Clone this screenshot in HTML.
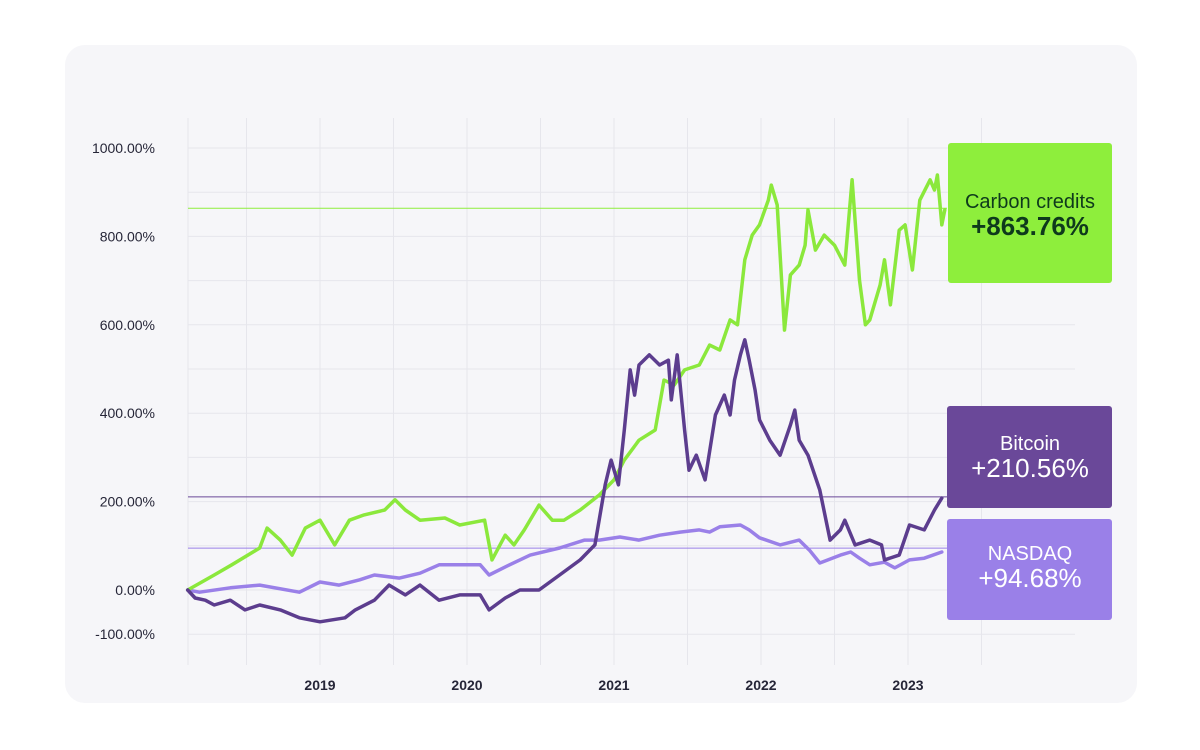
<!DOCTYPE html>
<html><head><meta charset="utf-8"><style>
html,body{margin:0;padding:0;background:#fff;width:1200px;height:750px;overflow:hidden;font-family:"Liberation Sans",sans-serif}
</style></head><body>
<svg id="chart" width="1200" height="750" xmlns="http://www.w3.org/2000/svg">
<rect x="65" y="45" width="1072" height="658" rx="20" fill="#f6f6f9"/>
<g id="grid"></g>
<g id="yaxis"></g>
<g id="xaxis"></g>
<g id="refs"></g>
<g id="lines"></g>
<g>
<rect x="948" y="143" width="164" height="140" rx="3" fill="#8eee3c"/>
<text x="1030" y="208" text-anchor="middle" font-size="20" fill="#0e3a1c">Carbon credits</text>
<text x="1030" y="235" text-anchor="middle" font-size="26" font-weight="bold" fill="#0e3a1c">+863.76%</text>
</g>
<g>
<rect x="947" y="406" width="165" height="102" rx="3" fill="#6a4899"/>
<text x="1030" y="450" text-anchor="middle" font-size="20" fill="#fff">Bitcoin</text>
<text x="1030" y="477" text-anchor="middle" font-size="26" fill="#fff">+210.56%</text>
</g>
<g>
<rect x="947" y="519" width="165" height="101" rx="3" fill="#9a80e8"/>
<text x="1030" y="560" text-anchor="middle" font-size="20" fill="#fff">NASDAQ</text>
<text x="1030" y="587" text-anchor="middle" font-size="26" fill="#fff">+94.68%</text>
</g>
</svg>
<script>
const yTicks=[1000,800,600,400,200,0,-100];
const yTickLabels=["1000.00%","800.00%","600.00%","400.00%","200.00%","0.00%","-100.00%"];
const xTicks=[2019,2020,2021,2022,2023];
const xTickLabels=["2019","2020","2021","2022","2023"];
const finalValues=[863.76,210.56,94.68];
const carbonDates=[2018.10,2018.28,2018.40,2018.59,2018.64,2018.73,2018.81,2018.90,2019.00,2019.10,2019.20,2019.30,2019.44,2019.51,2019.58,2019.68,2019.85,2019.95,2020.12,2020.17,2020.26,2020.32,2020.39,2020.49,2020.58,2020.66,2020.77,2020.90,2021.00,2021.07,2021.17,2021.28,2021.34,2021.41,2021.48,2021.58,2021.65,2021.72,2021.79,2021.84,2021.89,2021.94,2021.99,2022.05,2022.07,2022.11,2022.16,2022.20,2022.26,2022.30,2022.32,2022.37,2022.43,2022.50,2022.57,2022.62,2022.67,2022.71,2022.74,2022.81,2022.84,2022.88,2022.94,2022.98,2023.03,2023.08,2023.15,2023.18,2023.20,2023.23,2023.25];
const carbonValues=[0,34,57,95,140,113,79,140,158,102,158,170,181,204,181,158,163,147,158,68,124,102,136,192,158,158,181,215,249,294,339,362,475,464,498,509,554,543,611,600,747,803,826,882,916,871,588,713,735,780,860,769,803,780,735,928,701,600,611,690,747,645,814,826,724,882,928,905,939,826,860];
const btcDates=[2018.10,2018.15,2018.22,2018.28,2018.39,2018.49,2018.59,2018.73,2018.86,2019.00,2019.17,2019.24,2019.37,2019.47,2019.58,2019.68,2019.81,2019.95,2020.09,2020.15,2020.26,2020.36,2020.49,2020.63,2020.77,2020.87,2020.94,2020.98,2021.03,2021.07,2021.11,2021.14,2021.17,2021.24,2021.31,2021.37,2021.39,2021.43,2021.48,2021.51,2021.56,2021.62,2021.69,2021.75,2021.79,2021.82,2021.86,2021.89,2021.92,2021.96,2021.99,2022.06,2022.13,2022.20,2022.23,2022.26,2022.32,2022.40,2022.47,2022.54,2022.57,2022.64,2022.74,2022.82,2022.84,2022.94,2023.01,2023.11,2023.18,2023.23];
const btcValues=[0,-18,-23,-34,-23,-45,-34,-45,-63,-72,-63,-45,-23,11,-11,11,-23,-11,-11,-45,-18,0,0,34,68,102,238,294,238,362,498,441,509,532,509,520,430,532,362,271,305,249,396,441,396,475,532,566,520,452,385,339,305,373,407,339,305,226,113,136,158,102,113,102,68,79,147,136,181,208];
const nasdaqDates=[2018.10,2018.18,2018.39,2018.59,2018.86,2019.00,2019.13,2019.27,2019.37,2019.54,2019.68,2019.81,2020.09,2020.15,2020.29,2020.43,2020.63,2020.80,2020.90,2021.04,2021.17,2021.31,2021.45,2021.58,2021.65,2021.72,2021.86,2021.92,2021.99,2022.13,2022.26,2022.33,2022.40,2022.54,2022.61,2022.67,2022.74,2022.84,2022.91,2023.01,2023.11,2023.23];
const nasdaqValues=[0,-5,5,11,-5,18,11,23,34,27,38,57,57,34,57,79,95,113,113,120,113,124,131,136,131,143,147,136,118,102,113,90,61,79,86,72,57,63,50,68,72,86];

const NS="http://www.w3.org/2000/svg";
const X0=188,X1=1075,YT=118,YB=665;
function xs(t){return 320+(t-2019)*147;}
function ys(v){return 590-v*0.442;}
function mk(tag,attrs,parent){const e=document.createElementNS(NS,tag);for(const k in attrs)e.setAttribute(k,attrs[k]);parent.appendChild(e);return e;}
const grid=document.getElementById('grid');
for(let v=-100;v<=1000;v+=100){
 const l=mk('line',{x1:X0,x2:X1,y1:ys(v),y2:ys(v),stroke:'#e6e6ec','stroke-width':1},grid);
 
 
}
for(let t=2018.5;t<=2023.5;t+=0.5){
 const l=mk('line',{x1:xs(t),x2:xs(t),y1:YT,y2:YB,stroke:'#e6e6ec','stroke-width':1},grid);
 
 
}
const ln0=mk('line',{x1:X0,x2:X0,y1:YT,y2:YB,stroke:'#e6e6ec'},grid);


const ya=document.getElementById('yaxis');
yTicks.forEach((v,i)=>{
 const t=mk('text',{x:155,y:ys(v)+5,'text-anchor':'end','font-size':14,fill:'#262638'},ya);
 t.textContent=yTickLabels[i];
 
 
});
const xa=document.getElementById('xaxis');
xTicks.forEach((v,i)=>{
 const t=mk('text',{x:xs(v),y:690,'text-anchor':'middle','font-size':14,'font-weight':'bold',fill:'#262638'},xa);
 t.textContent=xTickLabels[i];
 
 
});
const refColors=['#8eee3c','#6a4899','#9a80e8'];
const refs=document.getElementById('refs');
finalValues.forEach((v,i)=>{
 const l=mk('line',{x1:X0,x2:947,y1:ys(v),y2:ys(v),stroke:refColors[i],'stroke-width':1},refs);
 
 
});
const lines=document.getElementById('lines');
function series(d,v,color,name){
 const p=d.map((t,i)=>(i?'L':'M')+xs(t).toFixed(1)+','+ys(v[i]).toFixed(1)).join('');
 const e=mk('path',{d:p,fill:'none',stroke:color,'stroke-width':3.5,'stroke-linejoin':'round','stroke-linecap':'round'},lines);
 
 
}
series(nasdaqDates,nasdaqValues,'#9a80e8','nasdaq-line');
series(carbonDates,carbonValues,'#8be83c','carbon-credits-line');
series(btcDates,btcValues,'#5c3d8e','bitcoin-line');
</script>
</body></html>
